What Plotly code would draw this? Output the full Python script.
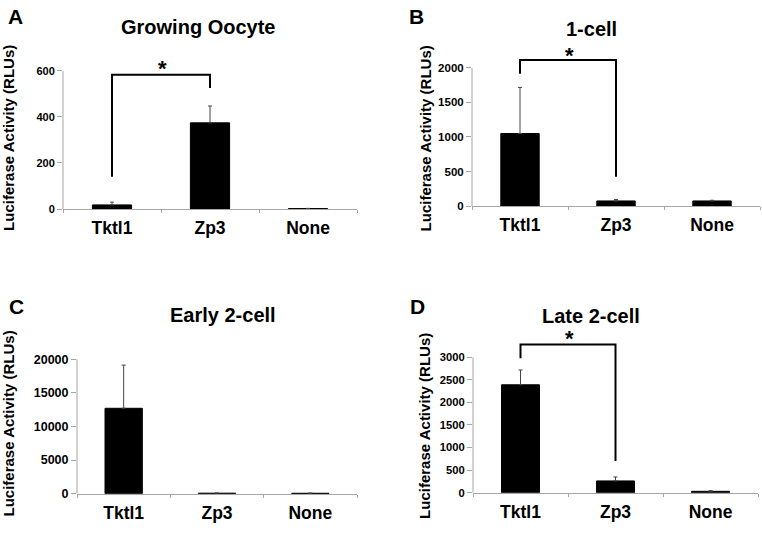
import plotly.graph_objects as go

W, H = 762, 535

categories = ["Tktl1", "Zp3", "None"]

# values
a_vals = [18, 374, 2]
a_err = [12, 73, 1]
b_vals = [1050, 75, 75]
b_err = [666, 20, 10]
c_vals = [12700, 70, 60]
c_err = [6420, 15, 15]
d_vals = [2390, 260, 30]
d_err = [327, 88, 15]

a_ticks = [0, 200, 400, 600]
b_ticks = [0, 500, 1000, 1500, 2000]
c_ticks = [0, 5000, 10000, 15000, 20000]
d_ticks = [0, 500, 1000, 1500, 2000, 2500, 3000]

titles = ["Growing Oocyte", "1-cell", "Early 2-cell", "Late 2-cell"]
letters = ["A", "B", "C", "D"]
ytitle = "Luciferase Activity (RLUs)"

# brackets: (left bottom, top, right bottom, star level)
a_bracket = [140, 583, 525, 610]
b_bracket = [1915, 2113, 425, 2174]
d_bracket = [2980, 3283, 700, 3409]

FONT = "Arial, Liberation Sans, sans-serif"
AXC = "#a6a6a6"

# panel pixel geometry: x-left, x-right, y-pixel of zero, y-pixel of top tick
panels = [
    dict(vals=a_vals, err=a_err, ticks=a_ticks, br=a_bracket, xl=63, xr=357, y0=210, yt=69, rmax=680,
         tfs=11, title_xy=(198, 24), letter_xy=(15, 14), ytitle_xy=(8.5, 138)),
    dict(vals=b_vals, err=b_err, ticks=b_ticks, br=b_bracket, xl=472, xr=760, y0=207, yt=66, rmax=2350,
         tfs=11.5, title_xy=(591.5, 26.5), letter_xy=(416, 14), ytitle_xy=(425, 138)),
    dict(vals=c_vals, err=c_err, ticks=c_ticks, br=None, xl=77, xr=357, y0=500, yt=363, rmax=20500,
         tfs=12.5, title_xy=(223, 318), letter_xy=(16, 309), ytitle_xy=(8.5, 429)),
    dict(vals=d_vals, err=d_err, ticks=d_ticks, br=d_bracket, xl=473, xr=758, y0=499, yt=361, rmax=3700,
         tfs=11.2, title_xy=(591, 318.5), letter_xy=(418, 309), ytitle_xy=(425, 431)),
]

fig = go.Figure()
annotations = []
shapes = []

for i, p in enumerate(panels):
    n = i + 1
    xa = "x" if n == 1 else f"x{n}"
    ya = "y" if n == 1 else f"y{n}"
    tv = p["ticks"][-1]
    k = (p["y0"] - p["yt"]) / tv
    ytop_px = p["y0"] - p["rmax"] * k
    xdom = [p["xl"] / W, p["xr"] / W]
    ydom = [1 - p["y0"] / H, 1 - ytop_px / H]

    fig.add_trace(go.Bar(
        x=categories, y=p["vals"], xaxis=xa, yaxis=ya,
        marker=dict(color="black", line=dict(color="black", width=1)),
        width=0.4,
        error_y=dict(type="data", symmetric=False, array=p["err"], arrayminus=[0, 0, 0],
                     color="#444444", thickness=1, width=2),
        showlegend=False, hoverinfo="skip",
    ))
    if p["br"] is not None:
        lb, top, rb, star = p["br"]
        fig.add_trace(go.Scatter(
            x=[categories[0], categories[0], categories[1], categories[1]],
            y=[lb, top, top, rb], xaxis=xa, yaxis=ya, mode="lines",
            line=dict(color="black", width=2), showlegend=False, hoverinfo="skip",
        ))
        annotations.append(dict(x=0.52, y=star, xref=xa, yref=ya, text="*", showarrow=False,
                                borderpad=0,
                                font=dict(family=FONT, size=22, color="black", weight="bold"),
                                xanchor="center", yanchor="middle"))

    xkey = "xaxis" if n == 1 else f"xaxis{n}"
    ykey = "yaxis" if n == 1 else f"yaxis{n}"
    fig.update_layout(**{
        xkey: dict(domain=xdom, anchor=ya, type="category", range=[-0.5, 2.5],
                   showline=True, linecolor=AXC, linewidth=1, ticks="outside", tickson="boundaries",
                   ticklen=3, tickcolor=AXC, showgrid=False, zeroline=False, fixedrange=True,
                   ticklabelstandoff=3,
                   tickfont=dict(family=FONT, size=17.5, color="black", weight="bold")),
        ykey: dict(domain=ydom, anchor=xa, range=[0, p["rmax"]], showline=False,
                   tickvals=p["ticks"], ticktext=[str(t) for t in p["ticks"]],
                   ticks="outside", ticklen=5, tickcolor=AXC,
                   showgrid=False, zeroline=False, fixedrange=True,
                   tickfont=dict(family=FONT, size=p["tfs"], color="black", weight="bold")),
    })
    xd = xa + " domain"
    shapes.append(dict(type="line", xref=xd, yref=ya, x0=0, x1=0, y0=0, y1=tv,
                       line=dict(color=AXC, width=1)))

    tx, ty = p["title_xy"]
    annotations.append(dict(x=tx / W, y=1 - ty / H, xref="paper", yref="paper", text=titles[i],
                            showarrow=False, xanchor="center", yanchor="middle", borderpad=0,
                            font=dict(family=FONT, size=20, color="black", weight="bold")))
    lx, ly = p["letter_xy"]
    annotations.append(dict(x=lx / W, y=1 - ly / H, xref="paper", yref="paper", text=letters[i],
                            showarrow=False, xanchor="center", yanchor="middle",
                            font=dict(family=FONT, size=21, color="black", weight="bold")))
    yx, yy = p["ytitle_xy"]
    annotations.append(dict(x=yx / W, y=1 - yy / H, xref="paper", yref="paper", text=ytitle,
                            showarrow=False, xanchor="center", yanchor="middle", textangle=-90,
                            borderpad=0,
                            font=dict(family=FONT, size=15, color="black", weight="bold")))

fig.update_layout(width=W, height=H, margin=dict(l=0, r=0, t=0, b=0),
                  paper_bgcolor="white", plot_bgcolor="white",
                  annotations=annotations, shapes=shapes, bargap=0.6)

fig.write_html("out.html", config={"displayModeBar": False},
               post_script="document.body.style.margin='0';document.body.style.padding='0';")
